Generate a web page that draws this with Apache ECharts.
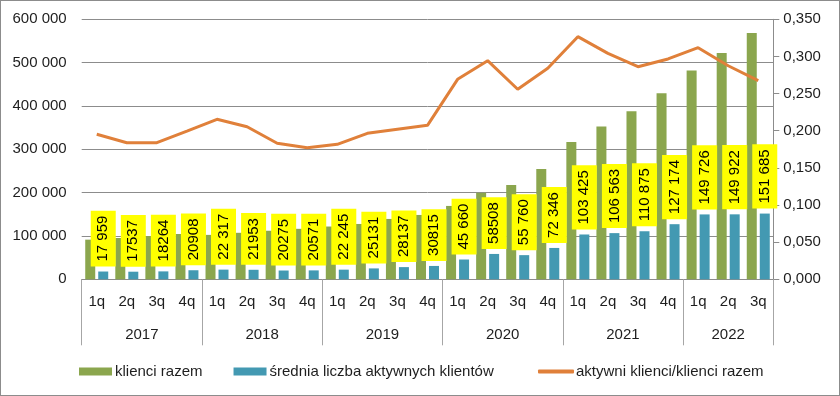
<!DOCTYPE html>
<html>
<head>
<meta charset="utf-8">
<script src="https://cdn.jsdelivr.net/npm/echarts@6/dist/echarts.min.js"></script>
<style>
html,body{margin:0;padding:0;background:#fff;}
#c{width:840px;height:396px;box-sizing:border-box;border:1px solid #8c8c8c;}
</style>
</head>
<body>
<div id="c"></div>
<script>
var quarters = ['1q','2q','3q','4q','1q','2q','3q','4q','1q','2q','3q','4q','1q','2q','3q','4q','1q','2q','3q','4q','1q','2q','3q'];
var years = ['2017','2018','2019','2020','2021','2022'];
var yearStart = [0,4,8,12,16,20,23];
var yearMid = [2,6,10,14,18,21.5];
var klienciRazem = [91500,95300,99700,104500,102500,107300,112000,116500,121800,127700,139300,148500,169300,199500,217800,254600,316800,352500,388000,429400,482000,522500,568300];
var aktywni = [17959,17537,18264,20908,22317,21953,20275,20571,22245,25131,28137,30815,45660,58508,55760,72346,103425,106563,110875,127174,149726,149922,151685];
var aktywniLabels = ['17 959','17537','18264','20908','22 317','21953','20275','20571','22 245','25131','28137','30815','45 660','58508','55 760','72 346','103 425','106 563','110 875','127 174','149 726','149 922','151 685'];
var ratio = [0.1952,0.1839,0.1839,0.1996,0.2154,0.2054,0.1831,0.1772,0.1817,0.1965,0.2019,0.2073,0.2692,0.2943,0.2558,0.2840,0.3266,0.3042,0.2862,0.2966,0.3118,0.2875,0.2674];

var FONT = '"Liberation Sans", Arial, sans-serif';
var TXT = '#1e1e1e';
var chart = echarts.init(document.getElementById('c'), null, {renderer:'canvas'});
chart.setOption({
  animation:false,
  textStyle:{fontFamily:FONT},
  grid:{left:80.7,right:65.7,top:18.3,bottom:115.7,containLabel:false},
  legend:[
    {top:358, left:73, itemWidth:33, itemHeight:8, itemGap:31,
     textStyle:{fontSize:15,color:TXT,fontFamily:FONT,padding:[0,0,0,-2]},
     data:[{name:'klienci razem',icon:'rect'},{name:'średnia liczba aktywnych klientów',icon:'rect'}]},
    {top:358, left:532, itemWidth:36, itemHeight:4,
     textStyle:{fontSize:15,color:TXT,fontFamily:FONT,padding:[0,0,0,-3]},
     data:[{name:'aktywni klienci/klienci razem',icon:'roundRect'}]}
  ],
  xAxis:[
    {type:'category',data:quarters,position:'bottom',
     axisLine:{show:true,lineStyle:{color:'#8c8c8c',width:1}},
     axisTick:{show:false},
     axisLabel:{fontSize:15,color:TXT,margin:15,interval:0,fontFamily:FONT},
     splitLine:{show:false}},
    {type:'value',min:0,max:23,position:'bottom',offset:0,
     axisLine:{show:false},
     axisTick:{show:true,customValues:yearStart,length:66,inside:false,lineStyle:{color:'#a6a6a6',width:1}},
     axisLabel:{show:true,customValues:yearMid,fontSize:15,color:TXT,margin:48,fontFamily:FONT,
       formatter:function(v){var i=yearMid.indexOf(v);return i>=0?years[i]:'';}},
     splitLine:{show:false}}
  ],
  yAxis:[
    {type:'value',min:0,max:600000,interval:100000,position:'left',
     axisLine:{show:false},axisTick:{show:false},
     axisLabel:{fontSize:15,color:TXT,margin:15,fontFamily:FONT,
       formatter:function(v){return String(v).replace(/\B(?=(\d{3})+(?!\d))/g,' ');}},
     splitLine:{show:true,lineStyle:{color:'#8c8c8c',width:1}}},
    {type:'value',min:0,max:0.35,interval:0.05,position:'right',
     axisLine:{show:true,lineStyle:{color:'#8c8c8c',width:1}},
     axisTick:{show:true,length:6,lineStyle:{color:'#8c8c8c'}},
     axisLabel:{fontSize:15,color:TXT,margin:10,fontFamily:FONT,
       formatter:function(v){return v.toFixed(3).replace('.',',');}},
     splitLine:{show:false}}
  ],
  series:[
    {name:'klienci razem',type:'bar',xAxisIndex:0,yAxisIndex:0,data:klienciRazem,
     barWidth:10,barGap:'30%',itemStyle:{color:'#8ba64e'}},
    {name:'średnia liczba aktywnych klientów',type:'bar',xAxisIndex:0,yAxisIndex:0,data:aktywni,
     barWidth:10,barGap:'30%',itemStyle:{color:'#4399b2'},
     label:{show:true,position:'top',rotate:90,distance:5,align:'left',verticalAlign:'middle',
       backgroundColor:'#ffff00',padding:[4,5,4,5],lineHeight:17,fontSize:15,color:'#000',fontFamily:FONT,
       formatter:function(p){return aktywniLabels[p.dataIndex];}}},
    {name:'aktywni klienci/klienci razem',type:'line',xAxisIndex:0,yAxisIndex:1,data:ratio,
     symbol:'none',smooth:false,lineStyle:{color:'#e0803a',width:3},itemStyle:{color:'#e0803a'}}
  ]
});
</script>
</body>
</html>
